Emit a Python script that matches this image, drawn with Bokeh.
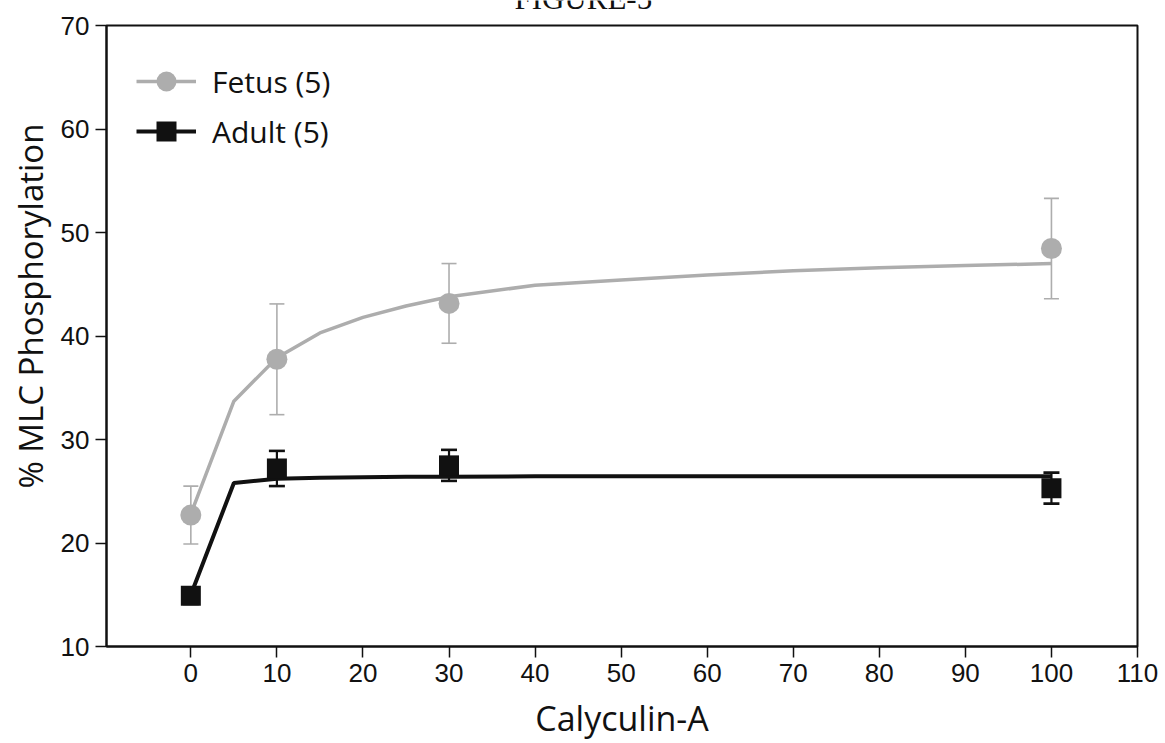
from bokeh.embed import file_html
from bokeh.layouts import column
from bokeh.models import (ColumnDataSource, FixedTicker, Label, Legend,
                          LegendItem, Range1d, TeeHead, Title, Whisker)
from bokeh.plotting import figure
from bokeh.resources import INLINE

# Calyculin-A concentrations with measured MLC phosphorylation (mean, s.e.m.)
dose = [0, 10, 30, 100]
fetus_mean = [22.7, 37.75, 43.15, 48.45]
fetus_err = [2.8, 5.35, 3.85, 4.85]
adult_mean = [14.9, 27.2, 27.5, 25.3]
adult_err = [0.8, 1.7, 1.5, 1.5]

# Fitted response curves
fit_dose = [0, 5, 10, 15, 20, 25, 30, 40, 50, 60, 70, 80, 90, 100]
fetus_fit = [22.8, 33.7, 37.9, 40.3, 41.8, 42.9, 43.8, 44.9, 45.4,
             45.9, 46.3, 46.6, 46.8, 47.0]
adult_fit = [15.0, 25.8, 26.2, 26.3, 26.35, 26.4, 26.4, 26.45, 26.45,
             26.45, 26.45, 26.45, 26.45, 26.45]

x_ticks = [0, 10, 20, 30, 40, 50, 60, 70, 80, 90, 100, 110]
y_ticks = [10, 20, 30, 40, 50, 60, 70]

GREY = "#adadad"
BLACK = "#111111"
TICK_FONT = "Liberation Sans"
LABEL_FONT = "Open Sans"

x_range = Range1d(-9.8, 110)

# caption band above the chart
head = figure(width=1165, height=12, output_backend="svg", toolbar_location=None,
              title=None, x_range=x_range, y_range=Range1d(0, 12),
              x_axis_type=None, y_axis_type=None, min_border=0,
              outline_line_color=None, background_fill_color="white",
              border_fill_color="white")
head.grid.visible = False
head.add_layout(Label(x=45.6, y=14, text="FIGURE-5", text_font="Liberation Serif",
                      text_font_size="31px", text_align="center",
                      text_baseline="alphabetic", text_color=BLACK))

p = figure(width=1165, height=731, output_backend="svg", toolbar_location=None,
           title=None, x_range=x_range, y_range=Range1d(10, 70),
           min_border_left=106, min_border_right=28, min_border_top=13,
           min_border_bottom=97, background_fill_color="white",
           border_fill_color="white")
p.grid.visible = False
p.outline_line_color = BLACK
p.outline_line_width = 2

for ax in (p.xaxis[0], p.yaxis[0]):
    ax.axis_line_color = BLACK
    ax.axis_line_width = 2
    ax.major_tick_line_color = BLACK
    ax.major_tick_line_width = 1.5
    ax.major_tick_out = 11
    ax.major_tick_in = 0
    ax.minor_tick_line_color = None
    ax.major_label_text_font = TICK_FONT
    ax.major_label_text_font_size = "26px"
    ax.major_label_text_color = BLACK
    ax.major_label_standoff = 6
p.xaxis.ticker = FixedTicker(ticks=x_ticks)
p.yaxis.ticker = FixedTicker(ticks=y_ticks)

p.xaxis.axis_label = "Calyculin-A"
p.xaxis.axis_label_text_font = LABEL_FONT
p.xaxis.axis_label_text_font_size = "34px"
p.xaxis.axis_label_text_font_style = "normal"
p.xaxis.axis_label_text_color = BLACK
p.xaxis.axis_label_standoff = 10

p.add_layout(Title(text="% MLC Phosphorylation", align="left", offset=158,
                   standoff=8, vertical_align="middle", text_font=LABEL_FONT,
                   text_font_size="33px", text_font_style="normal",
                   text_color=BLACK), "left")

fetus_src = ColumnDataSource(dict(
    x=dose, y=fetus_mean,
    upper=[m + e for m, e in zip(fetus_mean, fetus_err)],
    lower=[m - e for m, e in zip(fetus_mean, fetus_err)]))
adult_src = ColumnDataSource(dict(
    x=dose, y=adult_mean,
    upper=[m + e for m, e in zip(adult_mean, adult_err)],
    lower=[m - e for m, e in zip(adult_mean, adult_err)]))

# error bars
p.add_layout(Whisker(source=fetus_src, base="x", upper="upper", lower="lower",
                     line_color=GREY, line_width=1.6,
                     upper_head=TeeHead(size=15, line_color=GREY, line_width=1.6),
                     lower_head=TeeHead(size=15, line_color=GREY, line_width=1.6)))
p.add_layout(Whisker(source=adult_src, base="x", upper="upper", lower="lower",
                     line_color=BLACK, line_width=2.2,
                     upper_head=TeeHead(size=16, line_color=BLACK, line_width=2.6),
                     lower_head=TeeHead(size=16, line_color=BLACK, line_width=2.6)))

# fitted curves
fetus_line = p.line(fit_dose, fetus_fit, line_color=GREY, line_width=3.5)
adult_line = p.line(fit_dose, adult_fit, line_color=BLACK, line_width=4)

# data points
fetus_pts = p.scatter("x", "y", source=fetus_src, marker="circle", size=21,
                      fill_color=GREY, line_color=None)
adult_pts = p.scatter("x", "y", source=adult_src, marker="square", size=20,
                      fill_color=BLACK, line_color=None)

legend = Legend(items=[LegendItem(label="Fetus (5)", renderers=[fetus_line, fetus_pts]),
                       LegendItem(label="Adult (5)", renderers=[adult_line, adult_pts])],
                location=(30, 490), orientation="vertical",
                glyph_width=60, glyph_height=50, label_height=50, spacing=-3,
                padding=0, margin=0, label_standoff=16,
                label_text_font=LABEL_FONT, label_text_font_size="30px",
                label_text_color=BLACK, border_line_color=None,
                background_fill_alpha=0)
p.add_layout(legend, "center")

page = column(head, p, spacing=0)
open("out.html", "w").write(file_html(page, INLINE))
